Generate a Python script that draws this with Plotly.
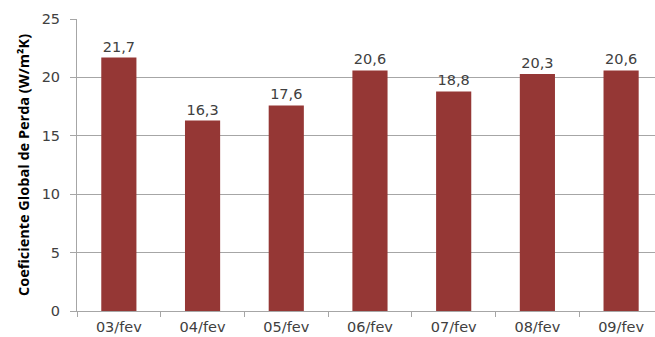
import plotly.graph_objects as go

categories = ["03/fev", "04/fev", "05/fev", "06/fev", "07/fev", "08/fev", "09/fev"]
values = [21.7, 16.3, 17.6, 20.6, 18.8, 20.3, 20.6]
y_title = "Coeficiente Global de Perda (W/m²K)"

bar_color = "#953735"
text_color = "#404040"
grid_color = "#a6a6a6"
tick_font = dict(family="DejaVu Sans", size=14.5, color=text_color)

fig = go.Figure(go.Bar(
    x=categories, y=values,
    marker=dict(color=bar_color, line=dict(width=0)),
    texttemplate="%{y:.1f}", textposition="outside",
    textfont=tick_font,
    cliponaxis=False,
))

fig.update_layout(
    width=655, height=337,
    margin=dict(l=77, r=0, t=19, b=26),
    paper_bgcolor="white", plot_bgcolor="white",
    separators=",.",
    bargap=0.58,
    showlegend=False,
    font=dict(family="DejaVu Sans", size=14, color=text_color),
)
fig.update_xaxes(
    type="category", range=[-0.5, 6.405], automargin=False,
    showline=True, linecolor=grid_color, linewidth=1,
    ticks="outside", tickson="boundaries", ticklen=5, tickcolor=grid_color,
    tickfont=tick_font, ticklabelstandoff=3,
    showgrid=False,
)
fig.update_yaxes(
    range=[0, 25], dtick=5, automargin=False,
    showline=True, linecolor=grid_color, linewidth=1,
    showgrid=True, gridcolor=grid_color, gridwidth=1,
    ticks="outside", ticklen=6, tickcolor=grid_color,
    tickfont=tick_font, ticklabelstandoff=7,
    zeroline=False,
    title=dict(text=y_title, font=dict(family="Open Sans", size=14.5, color="black", weight="bold"), standoff=8),
)

fig.write_html("out.html")
